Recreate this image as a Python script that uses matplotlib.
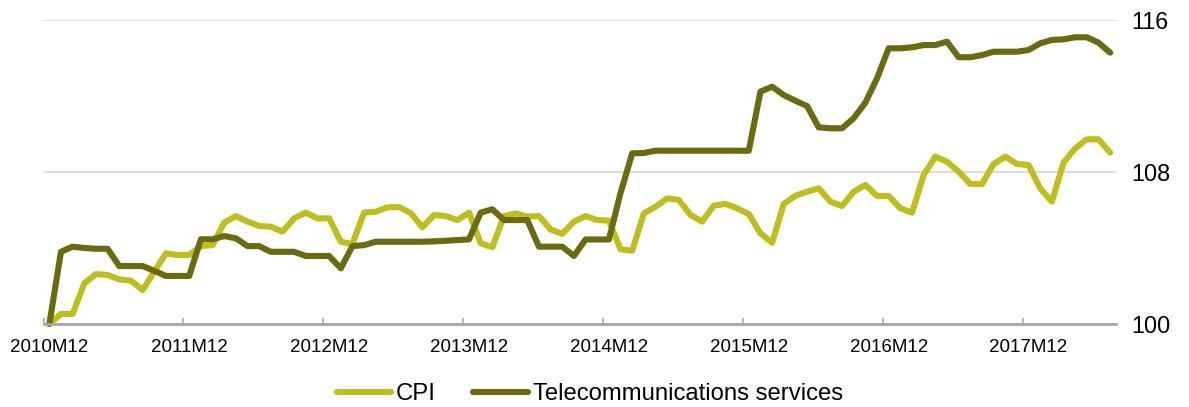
import matplotlib
matplotlib.use("Agg")
import matplotlib.pyplot as plt
import numpy as np

plt.rcParams["font.family"] = ["Liberation Sans", "DejaVu Sans"]

# Monthly index values, 2010M12 = 100, through 2018M07
cpi = [100.0, 100.53, 100.53, 102.14, 102.63, 102.58, 102.35, 102.28, 101.79, 102.75,
       103.72, 103.63, 103.63, 104.1, 104.15, 105.33, 105.68, 105.39, 105.16, 105.12,
       104.86, 105.56, 105.86, 105.56, 105.56, 104.33, 104.21, 105.86, 105.91, 106.14,
       106.16, 105.84, 105.09, 105.74, 105.68, 105.47, 105.86, 104.25, 104.04, 105.68,
       105.82, 105.65, 105.68, 104.98, 104.74, 105.39, 105.68, 105.47, 105.44, 103.93,
       103.86, 105.82, 106.17, 106.61, 106.53, 105.74, 105.39, 106.23, 106.32, 106.09,
       105.79, 104.77, 104.28, 106.32, 106.75, 106.96, 107.14, 106.44, 106.21, 106.96,
       107.32, 106.74, 106.74, 106.09, 105.86, 107.84, 108.81, 108.54, 108.02, 107.37,
       107.37, 108.42, 108.81, 108.42, 108.37, 107.14, 106.44, 108.49, 109.25, 109.72,
       109.72, 109.02]

telecom = [100.0, 103.8, 104.07, 104.0, 103.96, 103.96, 103.05, 103.05, 103.05, 102.8,
           102.53, 102.53, 102.53, 104.46, 104.46, 104.63, 104.51, 104.1, 104.1, 103.8,
           103.8, 103.8, 103.58, 103.58, 103.58, 102.93, 104.1, 104.15, 104.33, 104.33,
           104.33, 104.33, 104.33, 104.35, 104.38, 104.42, 104.45, 105.86, 106.04, 105.47,
           105.47, 105.47, 104.07, 104.07, 104.07, 103.58, 104.45, 104.45, 104.45, 106.9,
           108.98, 109.0, 109.12, 109.12, 109.12, 109.12, 109.12, 109.12, 109.12, 109.12,
           109.12, 112.23, 112.49, 112.05, 111.75, 111.47, 110.35, 110.3, 110.3, 110.83,
           111.65, 112.93, 114.51, 114.51, 114.56, 114.68, 114.68, 114.86, 114.04, 114.04,
           114.15, 114.33, 114.33, 114.33, 114.42, 114.77, 114.95, 114.98, 115.09, 115.09,
           114.81, 114.28]

year_labels = ["2010M12", "2011M12", "2012M12", "2013M12",
               "2014M12", "2015M12", "2016M12", "2017M12"]
y_ticks = [100, 108, 116]

x = np.arange(len(cpi))

fig = plt.figure(figsize=(11.89, 4.07), dpi=100)
ax = fig.add_axes([0.0366, 0.2039, 0.9020, 0.7470])

ax.plot(x, cpi, color="#BEBE1E", lw=4.4, label="CPI", clip_on=False,
        solid_joinstyle="round", solid_capstyle="round")
ax.plot(x, telecom, color="#6B6A10", lw=4.4, label="Telecommunications services",
        clip_on=False, solid_joinstyle="round", solid_capstyle="round")

ax.set_xlim(-0.5, len(cpi) - 0.5)
ax.set_ylim(100, 116)

# labels on the months, tick marks on the boundaries between categories
ax.set_xticks(np.arange(len(year_labels)) * 12)
ax.set_xticklabels(year_labels, fontsize=13.5)
ax.set_xticks(np.arange(len(year_labels)) * 12 - 0.5, minor=True)
ax.tick_params(axis="x", which="major", length=0, pad=11)
ax.tick_params(axis="x", which="minor", direction="in", length=4, width=1.2,
               color="#A6A6A6")

ax.yaxis.tick_right()
ax.set_yticks(y_ticks)
ax.set_yticklabels([str(v) for v in y_ticks], fontsize=16.8)
ax.tick_params(axis="y", length=0, pad=11)

ax.grid(axis="y", color="#D9D9D9", lw=1.3)
ax.set_axisbelow(True)
for s in ["top", "left", "right"]:
    ax.spines[s].set_visible(False)
ax.spines["bottom"].set_color("#A6A6A6")
ax.spines["bottom"].set_linewidth(2)

fig.legend(loc="center", bbox_to_anchor=(0.496, 0.032), ncol=2, frameon=False,
           fontsize=17.2, handlelength=2.3, handletextpad=0.2, columnspacing=1.55,
           borderpad=0)

fig.savefig("out.png", dpi=100)
